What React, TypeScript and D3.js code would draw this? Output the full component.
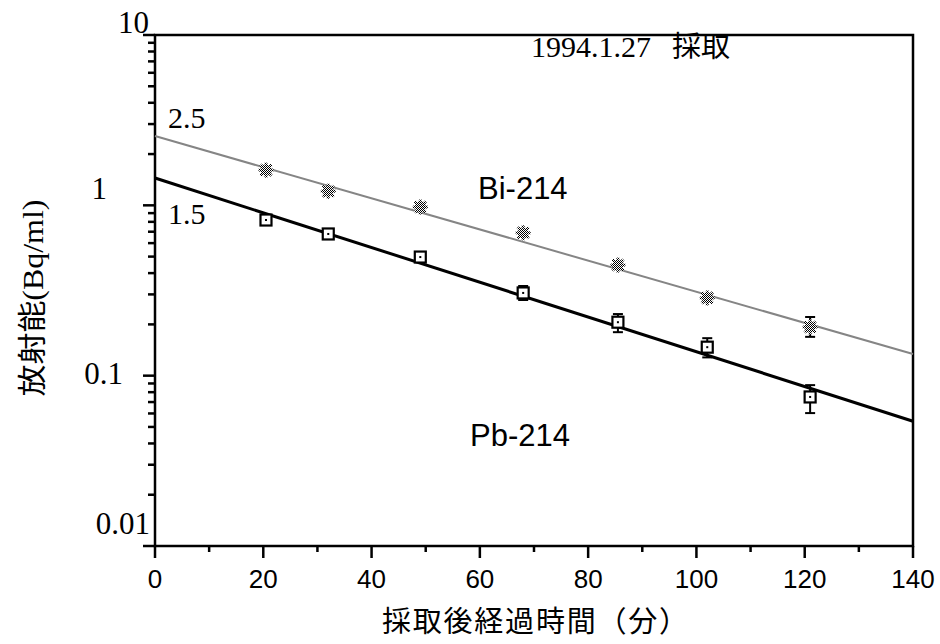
import React from "react";
import * as d3 from "d3";

// ---- data ----
const sampleTimes = [20.5, 32, 49, 68, 85.5, 102, 121];
const biValues = [1.61, 1.21, 0.977, 0.69, 0.446, 0.286, 0.193];
const biErrLow = [1.61, 1.21, 0.977, 0.69, 0.446, 0.286, 0.169];
const biErrHigh = [1.61, 1.21, 0.977, 0.69, 0.446, 0.286, 0.221];
const pbValues = [0.82, 0.679, 0.497, 0.306, 0.206, 0.147, 0.075];
const pbErrLow = [0.82, 0.679, 0.497, 0.278, 0.18, 0.128, 0.0603];
const pbErrHigh = [0.82, 0.679, 0.497, 0.336, 0.23, 0.166, 0.088];
const biFit = [[0, 2.55], [140, 0.134]];
const pbFit = [[0, 1.446], [140, 0.054]];
const xMajorTicks = [0, 20, 40, 60, 80, 100, 120, 140];
const xMinorTicks = [10, 30, 50, 70, 90, 110, 130];
const yMajorTicks = [0.01, 0.1, 1, 10];
const yTickLabels = ["0.01", "0.1", "1", "10"];
const biLabel = "Bi-214";
const pbLabel = "Pb-214";
const biInterceptLabel = "2.5";
const pbInterceptLabel = "1.5";
const dateLabel = "1994.1.27";
const dateSuffix = "採取";
const xTitle = "採取後経過時間（分）";
const yTitle = "放射能(Bq/ml)";

// ---- layout ----
const W = 940, H = 644;
const L = 155, R = 913, T = 35, B = 546;
const yLabelOffsets = [[-5, -23], [-32, -3], [-48, -17], [-6, -13]];
const SERIF = "'Liberation Serif', 'Noto Sans CJK JP', serif";
const SANS = "'Liberation Sans', 'Noto Sans CJK JP', sans-serif";

export default function App() {
  const x = d3.scaleLinear().domain([0, 140]).range([L, R]);
  const y = d3.scaleLog().domain([0.01, 10]).range([B, T]);
  const yMinor: number[] = [];
  for (let e = -2; e < 1; e++) for (let m = 2; m <= 9; m++) yMinor.push(m * Math.pow(10, e));
  const line = d3.line<number[]>().x(d => x(d[0])).y(d => y(d[1]));

  React.useEffect(() => { document.body.style.margin = "0"; }, []);

  const errBar = (xv: number, lo: number, hi: number, key: string) =>
    lo === hi ? null : (
      <g key={key} stroke="#000" strokeWidth={2}>
        <line x1={x(xv)} x2={x(xv)} y1={y(hi)} y2={y(lo)} />
        <line x1={x(xv) - 5} x2={x(xv) + 5} y1={y(hi)} y2={y(hi)} />
        <line x1={x(xv) - 5} x2={x(xv) + 5} y1={y(lo)} y2={y(lo)} />
      </g>
    );

  return (
    <svg width={W} height={H} style={{ position: "absolute", left: 0, top: 0, background: "#fff" }}>
      <defs>
        <pattern id="dither" width={2} height={2} patternUnits="userSpaceOnUse">
          <rect width={2} height={2} fill="#fff" />
          <rect x={0} y={0} width={1} height={1} fill="#000" />
          <rect x={1} y={1} width={1} height={1} fill="#000" />
        </pattern>
      </defs>
      <rect width={W} height={H} fill="#fff" />

      {/* frame */}
      <rect x={L} y={T} width={R - L} height={B - T} fill="none" stroke="#000" strokeWidth={2.5} />

      {/* x ticks */}
      {xMajorTicks.map(t => (
        <line key={"xM" + t} x1={x(t)} x2={x(t)} y1={B} y2={B + 12} stroke="#000" strokeWidth={2.5} />
      ))}
      {xMinorTicks.map(t => (
        <line key={"xm" + t} x1={x(t)} x2={x(t)} y1={B} y2={B + 6} stroke="#000" strokeWidth={2.5} />
      ))}
      {xMajorTicks.map(t => (
        <text key={"xl" + t} x={x(t)} y={B + 42} textAnchor="middle" fontFamily={SANS} fontSize={26} fill="#000">
          {t}
        </text>
      ))}

      {/* y ticks */}
      {yMajorTicks.map(t => (
        <line key={"yM" + t} x1={L - 12} x2={L} y1={y(t)} y2={y(t)} stroke="#000" strokeWidth={2.5} />
      ))}
      {yMinor.map(t => (
        <line key={"ym" + t} x1={L - 7} x2={L} y1={y(t)} y2={y(t)} stroke="#000" strokeWidth={2.5} />
      ))}
      {yMajorTicks.map((t, i) => (
        <text key={"yl" + t} x={L + yLabelOffsets[i][0]} y={y(t) + yLabelOffsets[i][1]} dy="0.35em"
          textAnchor="end" fontFamily={SERIF} fontSize={31} fill="#000">
          {yTickLabels[i]}
        </text>
      ))}

      {/* fit lines */}
      <path d={line(biFit) || ""} fill="none" stroke="#858585" strokeWidth={2} />
      <path d={line(pbFit) || ""} fill="none" stroke="#000" strokeWidth={3} />

      {/* error bars */}
      {sampleTimes.map((t, i) => errBar(t, biErrLow[i], biErrHigh[i], "be" + i))}
      {sampleTimes.map((t, i) => errBar(t, pbErrLow[i], pbErrHigh[i], "pe" + i))}

      {/* Bi markers */}
      {sampleTimes.map((t, i) => {
        const cx = x(t), cy = y(biValues[i]);
        return (
          <g key={"bm" + i}>
            <circle cx={cx} cy={cy} r={5.5} fill="url(#dither)" />
            <g stroke="url(#dither)" strokeWidth={3}>
              <line x1={cx - 7.5} x2={cx + 7.5} y1={cy} y2={cy} />
              <line x1={cx} x2={cx} y1={cy - 7.5} y2={cy + 7.5} />
              <line x1={cx - 5.5} x2={cx + 5.5} y1={cy - 5.5} y2={cy + 5.5} />
              <line x1={cx - 5.5} x2={cx + 5.5} y1={cy + 5.5} y2={cy - 5.5} />
            </g>
          </g>
        );
      })}

      {/* Pb markers */}
      {sampleTimes.map((t, i) => {
        const cx = x(t), cy = y(pbValues[i]);
        return (
          <g key={"pm" + i}>
            <rect x={cx - 5.5} y={cy - 5.5} width={11} height={11} fill="#fff" stroke="#000" strokeWidth={2.2} />
            <rect x={cx - 1} y={cy - 1} width={2} height={2} fill="#000" />
          </g>
        );
      })}

      {/* annotations */}
      <text x={x(0) + 13} y={y(biFit[0][1]) - 19} dy="0.35em" fontFamily={SERIF} fontSize={30} fill="#000">
        {biInterceptLabel}
      </text>
      <text x={x(0) + 13} y={y(pbFit[0][1]) + 35} dy="0.35em" fontFamily={SERIF} fontSize={30} fill="#000">
        {pbInterceptLabel}
      </text>
      <text x={478} y={188} dy="0.35em" fontFamily={SANS} fontSize={31} fill="#000">{biLabel}</text>
      <text x={470} y={435} dy="0.35em" fontFamily={SANS} fontSize={31} fill="#000">{pbLabel}</text>
      <text x={531} y={46} dy="0.35em" fontFamily={SERIF} fontSize={30} fill="#000">
        {dateLabel}
        <tspan x={672} fontSize={29}>{dateSuffix}</tspan>
      </text>

      {/* axis titles */}
      <text x={535} y={622} dy="0.35em" textAnchor="middle" fontFamily={SERIF} fontSize={29}
        textLength={306} lengthAdjust="spacing" fill="#000">
        {xTitle}
      </text>
      <text transform="translate(33,298) rotate(-90)" dy="0.35em" textAnchor="middle" fontFamily={SERIF}
        fontSize={29} textLength={197} lengthAdjust="spacingAndGlyphs" fill="#000">
        {yTitle}
      </text>
    </svg>
  );
}
